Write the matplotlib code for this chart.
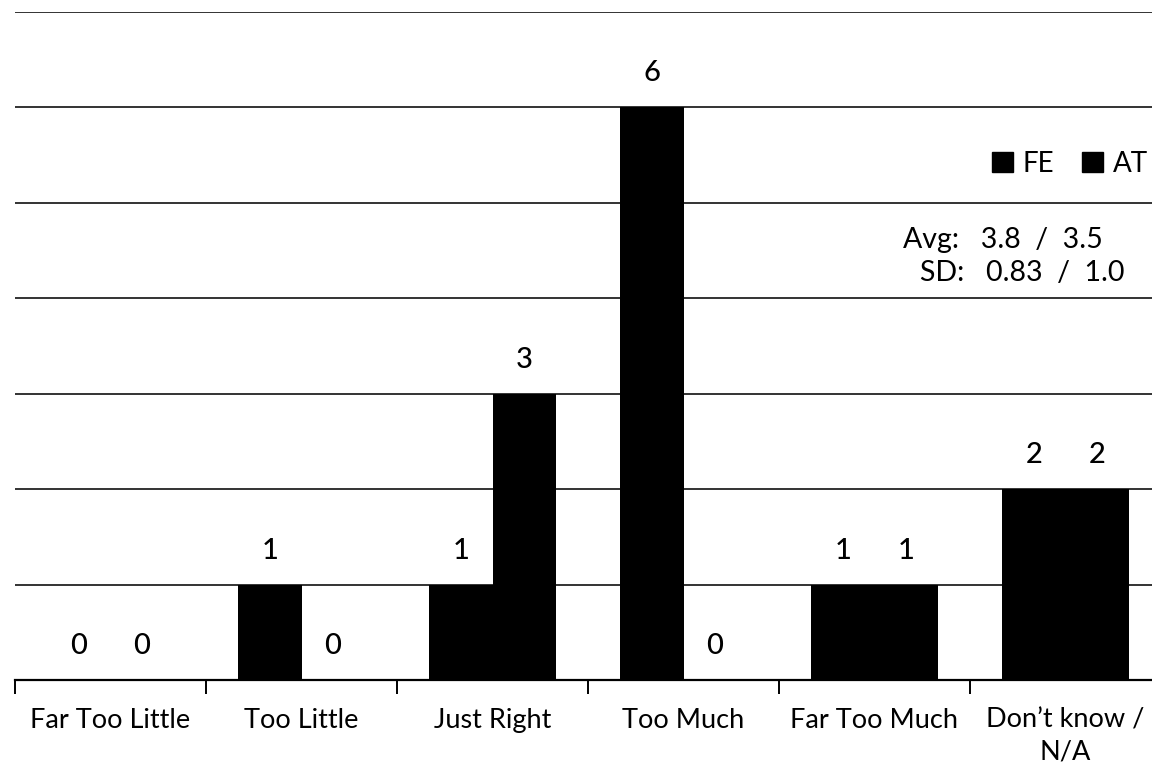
import matplotlib
matplotlib.use("Agg")
import matplotlib.pyplot as plt
import numpy as np
from matplotlib.patches import Patch

# data
categories = ["Far Too Little", "Too Little", "Just Right", "Too Much",
              "Far Too Much", "Don\u2019t know /\nN/A"]
fe = [0, 1, 1, 6, 1, 2]
at = [0, 0, 3, 0, 1, 2]
avg_text = "Avg:   3.8  /  3.5"
sd_text = "SD:   0.83  /  1.0"

plt.rcParams["font.family"] = ["Lato", "DejaVu Sans"]

fig = plt.figure(figsize=(11.52, 7.67), dpi=100)
ax = fig.add_axes([15 / 1152, 1 - 680 / 767, 1146 / 1152, (680 - 12) / 767])

x = np.arange(len(categories)) + 0.5
w = 0.33
b1 = ax.bar(x - w / 2, fe, w, color="black", label="FE", zorder=3)
b2 = ax.bar(x + w / 2, at, w, color="black", label="AT", zorder=3)

for bars, vals in ((b1, fe), (b2, at)):
    for r, v in zip(bars, vals):
        ax.text(r.get_x() + r.get_width() / 2, v + 0.22, str(v),
                ha="center", va="bottom", fontsize=21, fontweight="medium")

ax.set_xlim(0, 6)
ax.set_ylim(0, 7)
ax.set_yticks(range(1, 8))
ax.yaxis.grid(True, color="#333333", linewidth=1.4, zorder=0)
ax.tick_params(axis="y", left=False, labelleft=False)
for s in ("left", "right", "top"):
    ax.spines[s].set_visible(False)
ax.spines["bottom"].set_linewidth(1.6)

ax.set_xticks(range(0, 7))
ax.set_xticklabels([])
ax.tick_params(axis="x", direction="out", length=10, width=1.4)
ax.set_xticks(x, minor=True)
ax.set_xticklabels(categories, minor=True, fontsize=19.5, linespacing=1.35)
ax.tick_params(axis="x", which="minor", length=0, pad=20)

handles = [Patch(color="black", label="FE"), Patch(color="black", label="AT")]
fig.legend(handles=handles, loc="center right", bbox_to_anchor=(1148 / 1152, 1 - 164 / 767),
           ncol=2, frameon=False, fontsize=20, handlelength=0.75, handleheight=0.75,
           handletextpad=0.35, columnspacing=1.0, borderpad=0, borderaxespad=0)

fig.text(903 / 1152, 1 - 240 / 767, avg_text, fontsize=20.5, va="center", ha="left")
fig.text(920 / 1152, 1 - 273 / 767, sd_text, fontsize=20.5, va="center", ha="left")

fig.savefig("out.png", dpi=100)
